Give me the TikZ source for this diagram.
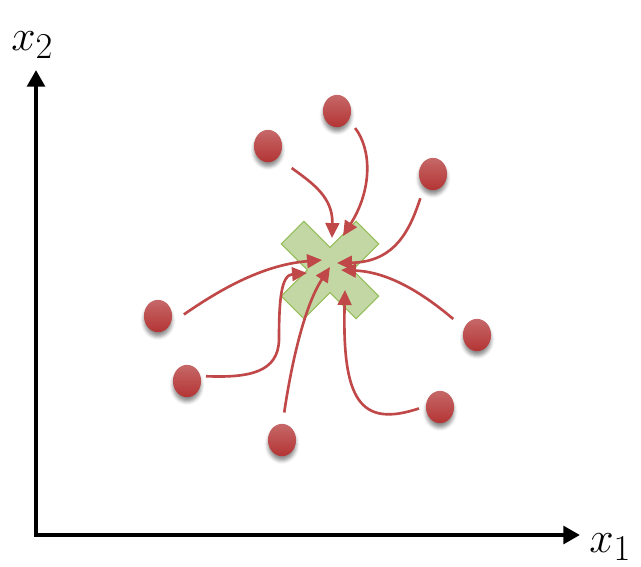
\documentclass[tikz,border=0pt]{standalone}
\usepackage{tikz}
\usetikzlibrary{arrows.meta, shapes.geometric, shadows.blur}
\definecolor{pullred}{RGB}{192,72,72}
\definecolor{dotlight}{RGB}{198,104,104}
\definecolor{dotdark}{RGB}{180,52,52}
\definecolor{meanfill}{RGB}{194,215,163}
\definecolor{meanline}{RGB}{150,190,90}
\tikzstyle{sample} = [ellipse, minimum width=16pt, minimum height=18.4pt, inner sep=0pt, top color=dotlight, bottom color=dotdark, blur shadow={shadow xshift=0pt, shadow yshift=-2.5pt, shadow blur radius=2pt, shadow opacity=45}]
\tikzstyle{meanmark} = [fill=meanfill, draw=meanline, line width=0.6pt, line join=miter]
\tikzstyle{pull} = [-{Triangle[length=8.5pt, width=7.8pt]}, line width=1.5pt, color=pullred]
\tikzstyle{axis} = [{Triangle[length=9.5pt, width=10pt]}-{Triangle[length=9.5pt, width=10pt]}, line width=2.8pt]
\tikzstyle{axislabel} = [anchor=base west, inner sep=0pt, font=\fontsize{28}{34}\selectfont]

\begin{document}
\begin{tikzpicture}[x=0.02cm, y=-0.02cm]
  \useasboundingbox (0,0) rectangle (641,566);
  \clip (0,0) rectangle (641,566);

  % axes
  \coordinate (origin) at (36,535);
  \coordinate (x1end) at (580,535);
  \coordinate (x2end) at (36,70);
  \draw[axis] (x2end) -- (origin) -- (x1end);
  \node[axislabel] (x1label) at (589,552) {$x_1$};
  \node[axislabel] (x2label) at (11,50) {$x_2$};

  % mean marker
  \begin{scope}[shift={(330,270)}, rotate=45]
    \filldraw[meanmark] (53,16) -- (53,-16) -- (16,-16) -- (16,-53) -- (-16,-53) -- (-16,-16)
      -- (-53,-16) -- (-53,16) -- (-16,16) -- (-16,53) -- (16,53) -- (16,16) -- cycle;
  \end{scope}

  % samples
  \node[sample] (ptop) at (337,111) {};
  \node[sample] (pnw) at (268,146) {};
  \node[sample] (pne) at (433,174) {};
  \node[sample] (pw) at (158,316) {};
  \node[sample] (pe) at (477,335) {};
  \node[sample] (psw) at (187,381) {};
  \node[sample] (pse) at (440,407) {};
  \node[sample] (ps) at (282,440) {};

  % arrow tips on the marker
  \coordinate (tnw) at (332,238);
  \coordinate (ttop) at (343,236);
  \coordinate (tne) at (337,263);
  \coordinate (te) at (341,270);
  \coordinate (tse) at (345,290);
  \coordinate (ts) at (330,267);
  \coordinate (tw) at (322,260);
  \coordinate (tsw) at (307,273);

  \draw[pull, shorten <=9.7pt] (pnw.-51) .. controls (314,184) and (333,198) .. (tnw);
  \draw[pull, shorten <=5.7pt] (ptop.-37) .. controls (372,150) and (372,190) .. (ttop);
  \draw[pull, shorten <=6.8pt] (pne.-125) .. controls (410,230) and (395,262) .. (tne);
  \draw[pull, shorten <=8pt] (pe.152) .. controls (425,295) and (390,272) .. (te);
  \draw[pull, shorten <=4pt] (pse.177) .. controls (360,428) and (342,400) .. (tse);
  \draw[pull, shorten <=6.3pt] (ps.88) .. controls (292,360) and (305,305) .. (ts);
  \draw[pull, shorten <=9pt] (pw.-30) .. controls (215,293) and (260,265) .. (tw);
  \draw[pull, shorten <=3pt] (psw.20) .. controls (250,378) and (278,372) .. (279,340)
    .. controls (279,300) and (281,275) .. (tsw);
\end{tikzpicture}
\end{document}
